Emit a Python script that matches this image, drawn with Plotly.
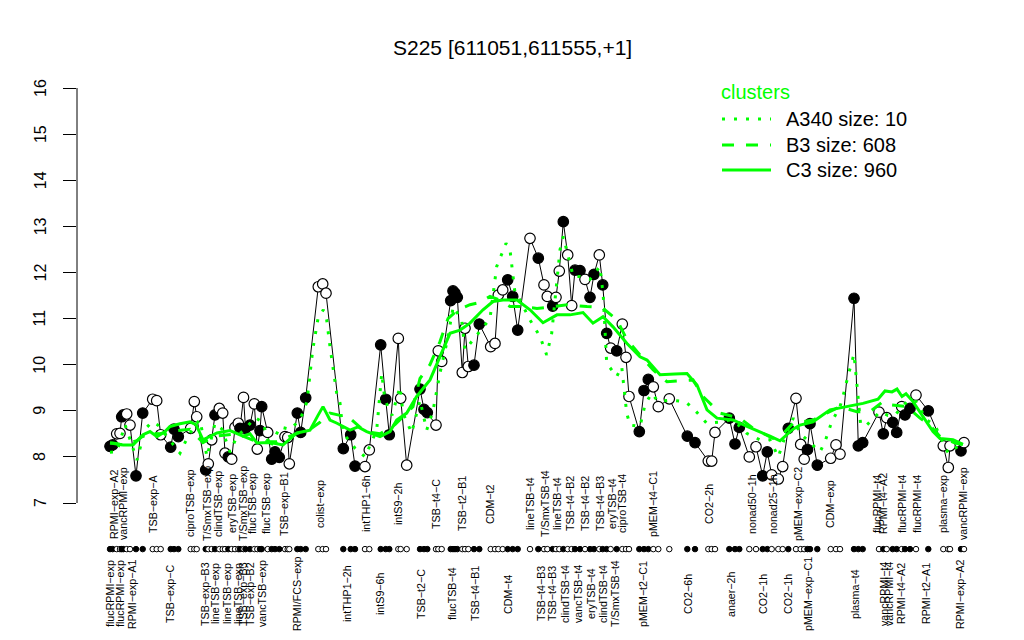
import plotly.graph_objects as go

# ---------------- data ----------------
title_text = "S225 [611051,611555,+1]"

sample_pos = [110, 112.7, 116.7, 120, 121.7, 123.3, 126.7, 130, 136, 142.7,
              152.7, 156.7, 160.7, 170.7, 174, 178.3, 190.7, 194.3, 196.7, 205.7,
              208.3, 211.7, 215, 219.3, 222.7, 225, 228.3, 231.7, 235, 238.3,
              240, 243.5, 245.5, 250, 254.3, 257.3, 260, 261.7, 267.7, 271.7,
              275, 279.3, 285, 287.7, 289.3, 297.3, 300.7, 305.7, 318.3, 322.7,
              326, 343.3, 350.7, 355, 365, 369.3, 380.7, 385.7, 389.3, 398.3,
              400.7, 406.7, 420, 424, 427.3, 436, 438.3, 441.7, 450.7, 453,
              455, 457.3, 462.3, 465, 468.3, 474, 479.3, 490.7, 495, 498.3,
              502.7, 507.7, 512.7, 517.7, 530, 538.3, 544, 547.3, 552.7, 556,
              559.3, 563.3, 567.7, 571.7, 575, 580, 585, 590, 594, 599.3,
              602.7, 606.7, 610.7, 616.7, 622.3, 626, 629, 639.3, 644, 648.3,
              653.3, 658.3, 669.3, 687.3, 695, 708.3, 711.7, 715, 729.3, 735,
              739.3, 749.3, 756, 762.7, 767.3, 771.7, 778.3, 782.7, 788.3, 796,
              800.7, 804.2, 807.5, 810, 817.3, 830.7, 836, 840, 854, 858.3,
              862.7, 879, 883.3, 886.7, 892.7, 896.7, 901.7, 905, 910, 916,
              928.3, 943.3, 948.3, 950, 961, 964]
sample_val = [8.23, 8.26, 8.50, 8.51, 8.87, 8.91, 8.93, 8.69, 7.59, 8.95,
              9.25, 9.22, 8.48, 8.21, 8.60, 8.44, 8.62, 9.20, 8.87, 7.72,
              7.85, 8.37, 8.91, 9.05, 8.95, 8.08, 8.00, 7.95, 8.64, 8.73,
              8.62, 9.29, 8.62, 8.69, 9.15, 8.17, 8.57, 9.09, 8.53, 7.95,
              8.11, 7.99, 8.44, 8.42, 7.85, 8.95, 8.53, 9.28, 11.69, 11.75,
              11.55, 8.18, 8.48, 7.80, 7.79, 8.15, 10.43, 9.25, 8.48, 10.57,
              9.27, 7.82, 9.47, 9.03, 8.96, 8.69, 10.30, 10.07, 11.39, 11.60,
              11.55, 11.46, 9.83, 10.79, 9.96, 9.99, 10.88, 10.39, 10.46, 11.51,
              11.62, 11.84, 11.48, 10.75, 12.74, 12.31, 11.73, 11.48, 11.27, 11.46,
              12.03, 13.10, 12.38, 11.28, 12.05, 12.04, 11.85, 11.46, 11.96, 12.38,
              11.73, 10.68, 10.36, 10.30, 10.88, 10.16, 9.31, 8.55, 9.44, 9.68,
              9.52, 9.09, 9.26, 8.45, 8.31, 7.91, 7.91, 8.53, 8.84, 8.28,
              8.64, 8.00, 8.22, 7.59, 8.11, 7.61, 7.52, 7.79, 8.62, 9.27,
              8.27, 7.95, 8.16, 8.72, 7.82, 7.97, 8.26, 8.06, 11.44, 8.24,
              8.31, 8.97, 8.50, 8.85, 8.75, 8.53, 9.09, 8.91, 9.05, 9.34,
              9.00, 8.24, 7.77, 8.24, 8.13, 8.31]
sample_filled = [1, 1, 0, 0, 1, 1, 0, 0, 1, 1,
                 0, 0, 0, 1, 1, 1, 0, 0, 0, 1,
                 0, 0, 1, 0, 0, 0, 1, 0, 0, 0,
                 1, 0, 1, 1, 0, 0, 1, 1, 0, 1,
                 1, 1, 0, 0, 0, 1, 1, 1, 0, 0,
                 0, 1, 1, 1, 0, 0, 1, 1, 1, 0,
                 0, 0, 1, 1, 1, 0, 0, 0, 1, 1,
                 1, 1, 0, 0, 0, 1, 1, 0, 0, 0,
                 0, 1, 1, 1, 0, 1, 0, 0, 1, 0,
                 0, 1, 0, 0, 1, 1, 0, 1, 1, 0,
                 1, 1, 0, 1, 0, 0, 0, 1, 1, 1,
                 0, 0, 0, 1, 1, 0, 0, 0, 1, 1,
                 1, 0, 0, 1, 1, 0, 0, 0, 1, 0,
                 0, 0, 1, 1, 1, 0, 0, 0, 1, 1,
                 1, 0, 1, 0, 1, 1, 0, 1, 1, 0,
                 1, 0, 0, 0, 1, 0]

a340_pos = [110, 117, 125, 137, 145, 152, 158, 167, 180, 185, 195, 200, 207, 215, 222,
            230, 237, 245, 255, 263, 270, 280, 290, 300, 307, 312.7, 318, 323.3, 326.7,
            330, 336.7, 340, 343, 355, 365, 376.7, 381.7, 385, 392, 400, 403, 411.7,
            420, 426.7, 433, 440, 447, 453.3, 461.7, 465, 473.3, 483.3, 490, 496.7,
            501.7, 506, 510, 515, 520, 530, 540, 546.7, 551.7, 556.7, 560, 563.3,
            566.7, 573.3, 580, 590, 600, 603.3, 606.7, 611.7, 616.7, 621.7, 626.7,
            630, 640, 645, 651.7, 658, 670, 685, 693.3, 706.7, 718, 730, 738, 746.7,
            760, 770, 778.3, 786, 793.3, 800, 810, 820, 825, 828.3, 831.7, 840,
            843.3, 848.3, 851.7, 854, 856, 858.3, 860.7, 866.7, 880, 888, 895,
            908.3, 916, 926.7, 935, 943.3, 948.3, 960]
a340_val = [8.10, 8.11, 8.70, 7.93, 8.60, 8.76, 8.69, 8.43, 8.08, 8.31, 8.70, 8.80, 8.00, 8.73, 8.60,
            8.10, 8.45, 8.60, 8.85, 8.75, 8.20, 8.65, 8.60, 8.80, 9.20, 10.32, 11.00, 11.19, 10.97,
            10.39, 9.38, 9.17, 8.52, 8.19, 8.00, 8.58, 9.81, 9.23, 8.90, 9.52, 8.95, 8.52,
            9.23, 8.58, 9.00, 9.82, 10.50, 11.26, 10.97, 10.32, 10.54, 10.82, 11.00, 12.13,
            12.42, 12.63, 12.49, 11.55, 11.40, 10.97, 10.61, 10.21, 10.68, 11.69, 12.49, 12.78,
            12.49, 11.91, 11.91, 11.85, 12.13, 11.48, 10.03, 9.89, 9.74, 9.96, 8.95,
            8.69, 8.66, 9.13, 9.38, 9.20, 9.23, 9.20, 9.05, 8.73, 8.75, 8.80, 8.70, 8.51,
            8.37, 8.37, 8.00, 8.50, 8.84, 8.51, 8.30, 8.11, 8.33, 8.53, 8.76, 9.09,
            9.34, 9.78, 10.03, 10.23, 9.78, 9.23, 8.69, 8.69, 8.98, 8.90, 8.91,
            9.23, 9.20, 8.80, 8.69, 8.29, 8.08, 8.26]

b3_pos = [110, 123, 137, 147, 160, 170, 190, 203, 215, 237, 257, 277, 297, 310, 320, 330,
          340, 352, 365, 380, 395, 413, 420, 430, 440, 448, 458, 470, 480, 490, 500, 510,
          523, 537, 550, 567, 587, 602, 617, 627, 640, 653, 667, 680, 693, 703, 720, 740,
          753, 773, 783, 793, 813, 840, 857, 870, 883, 890, 907, 920, 928, 940, 955, 963]
b3_val = [8.30, 8.26, 8.35, 8.52, 8.50, 8.55, 8.60, 8.31, 8.45, 8.50, 8.33, 8.33, 8.51, 8.60, 8.75, 8.95,
          8.90, 8.80, 8.55, 8.50, 8.70, 9.09, 9.70, 10.00, 10.50, 11.00, 11.19, 11.30, 11.35, 11.48, 11.40, 11.26,
          11.26, 11.22, 11.25, 11.30, 11.26, 11.24, 10.97, 10.54, 10.21, 9.89, 9.63, 9.65, 9.67, 9.31, 8.95, 8.84,
          8.62, 8.40, 8.50, 8.73, 8.80, 9.09, 8.98, 8.98, 9.20, 9.13, 9.09, 8.84, 8.73, 8.44, 8.30, 8.27]

c3_pos = [110, 113, 123, 133, 143, 150, 157, 165, 170, 180, 190, 196, 203, 210, 217, 230,
          243, 250, 257, 270, 283, 297, 310, 318, 323, 330, 337, 350, 358, 366.7, 380, 390,
          396.7, 406.7, 416.7, 430, 440, 450, 460, 470, 483, 493, 503, 517, 530, 543, 557,
          570, 583, 593, 603, 613, 627, 640, 647, 660, 675, 687, 697, 707, 717, 733, 747,
          760, 770, 780, 793, 800, 813, 830, 847, 863, 878, 885, 892, 897, 902, 906, 913,
          923, 933, 940, 953, 963]
c3_val = [8.30, 8.30, 8.26, 8.26, 8.48, 8.55, 8.44, 8.55, 8.66, 8.72, 8.76, 8.70, 8.37, 8.45, 8.52, 8.57,
          8.45, 8.50, 8.30, 8.31, 8.26, 8.52, 8.58, 8.90, 9.09, 8.80, 8.73, 8.58, 8.65, 8.55, 8.44, 8.55,
          8.80, 8.95, 9.31, 9.67, 10.17, 10.68, 10.75, 10.90, 11.19, 11.37, 11.40, 11.40, 11.19, 10.91, 11.08,
          11.08, 11.13, 10.90, 11.04, 10.82, 10.46, 10.17, 10.10, 9.78, 9.80, 9.81, 9.56, 9.02, 8.84, 8.80, 8.66,
          8.55, 8.45, 8.35, 8.60, 8.69, 8.76, 9.02, 9.09, 9.16, 9.25, 9.43, 9.41, 9.47, 9.31, 9.37, 9.20,
          8.87, 8.55, 8.40, 8.37, 8.27]

cluster_names = ["A340 size: 10", "B3 size: 608", "C3 size: 960"]

top_labels = ["RPMI−exp−A2", "vancRPMI−exp", "TSB−exp−A", "ciproTSB−exp", "T/SmxTSB−exp",
              "clindTSB−exp", "eryTSB−exp", "T/SmxTSB−exp", "flucTSB−exp", "flucTSB−exp",
              "TSB−exp−B1", "colist−exp", "intTHP1−6h", "intS9−2h", "TSB−t4−C", "TSB−t2−B1",
              "CDM−t2", "lineTSB−t4", "T/SmxTSB−t4", "lineTSB−t4", "TSB−t4−B2", "TSB−t4−B2",
              "TSB−t4−B3", "eryTSB−t4", "ciproTSB−t4", "pMEM−t4−C1", "CO2−2h", "nonad50−1h",
              "nonad25−1h", "pMEM−exp−C2", "CDM−exp", "flucRPMI−t4", "RPMI−t4−A2",
              "flucRPMI−t4", "flucRPMI−t4", "plasma−exp", "vancRPMI−exp"]
top_label_pos = [114, 123, 153, 190, 207, 218, 232, 243, 252, 266, 284, 320, 366, 398, 436, 462,
                 490, 530, 545, 557, 570, 585, 600, 612, 622, 653, 709, 752, 773, 798, 830, 877,
                 883, 902, 917, 943, 963]

bottom_labels = ["flucRPMI−exp", "flucRPMI−exp", "RPMI−exp−A1", "TSB−exp−C", "TSB−exp−B3",
                 "lineTSB−exp", "lineTSB−exp", "lineTSB−exp", "TSB−exp−B3", "TSB−exp−B2",
                 "vancTSB−exp", "RPMI/FCS−exp", "intTHP1−2h", "intS9−6h", "TSB−t2−C",
                 "flucTSB−t4", "TSB−t4−B1", "CDM−t4", "TSB−t4−B3", "TSB−t4−B3", "clindTSB−t4",
                 "vancTSB−t4", "eryTSB−t4", "clindTSB−t4", "T/SmxTSB−t4", "pMEM−t2−C1", "CO2−6h",
                 "anaer−2h", "CO2−1h", "CO2−1h", "pMEM−exp−C1", "plasma−t4", "vancRPMI−t4",
                 "vancRPMI−t4", "RPMI−t4−A2", "RPMI−t2−A1", "RPMI−exp−A2"]
bottom_label_pos = [110, 120, 132, 170, 205, 215, 227, 238, 243, 250, 262, 297, 347, 380, 421,
                    452, 475, 508, 541, 552, 565, 578, 591, 603, 615, 643, 688, 731, 763, 788,
                    808, 855, 884, 889, 901, 926, 960]

y_ticks = [7, 8, 9, 10, 11, 12, 13, 14, 15, 16]
dot_row_level = 6.0

# ---------------- layout helpers ----------------
# The page body has an 8px default margin, so the figure is drawn 8px smaller
# and all layout positions below are given in reference-window pixels.
OFF = 8
W, H = 1024 - OFF, 640 - OFF
L_REF = 77                      # left edge of the plotting region (window px)
PPU = 46.11                     # pixels per y unit
FONT = "Liberation Sans, Arial, Helvetica, sans-serif"
GREEN = "#00FF00"


def px(xp):
    return (xp - L_REF) / (1024 - L_REF)


def py(yp):
    return (640 - yp) / (640 - OFF)


fig = go.Figure()

# black profile line and points
fig.add_trace(go.Scatter(x=sample_pos, y=sample_val, mode="lines",
                         line=dict(color="black", width=1), hoverinfo="skip"))
fig.add_trace(go.Scatter(x=sample_pos, y=sample_val, mode="markers",
                         marker=dict(size=10.5, color=["black" if f else "white" for f in sample_filled],
                                     line=dict(color="black", width=1.2)),
                         hoverinfo="skip"))
# dot row
fig.add_trace(go.Scatter(x=sample_pos, y=[dot_row_level] * len(sample_pos), mode="markers",
                         marker=dict(size=5.5, color=["black" if f else "white" for f in sample_filled],
                                     line=dict(color="black", width=1)),
                         hoverinfo="skip"))

# cluster lines
fig.add_trace(go.Scatter(x=a340_pos, y=a340_val, mode="lines",
                         line=dict(color=GREEN, width=3, dash="3px,9px"), hoverinfo="skip"))
fig.add_trace(go.Scatter(x=b3_pos, y=b3_val, mode="lines",
                         line=dict(color=GREEN, width=3, dash="12px,12px"), hoverinfo="skip"))
fig.add_trace(go.Scatter(x=c3_pos, y=c3_val, mode="lines",
                         line=dict(color=GREEN, width=3), hoverinfo="skip"))

annotations = []
shapes = []

# title
annotations.append(dict(text=title_text, x=px(512), y=py(47), xref="paper", yref="paper",
                        showarrow=False, xanchor="center", yanchor="middle",
                        font=dict(family=FONT, size=21, color="black")))

# y tick labels (rotated, as in the reference)
for t in y_ticks:
    annotations.append(dict(text=str(t), x=px(40), y=t, xref="paper", yref="y", showarrow=False,
                            textangle=-90, xanchor="center", yanchor="middle",
                            font=dict(family=FONT, size=16, color="black")))

# sample labels
for lab, xp in zip(top_labels, top_label_pos):
    annotations.append(dict(text=lab, x=xp, y=py(504), xref="x", yref="paper", showarrow=False,
                            textangle=-90, xanchor="center", yanchor="middle",
                            font=dict(family=FONT, size=10.7, color="black")))
for lab, xp in zip(bottom_labels, bottom_label_pos):
    annotations.append(dict(text=lab, x=xp, y=py(594), xref="x", yref="paper", showarrow=False,
                            textangle=-90, xanchor="center", yanchor="middle",
                            font=dict(family=FONT, size=10.7, color="black")))

# legend (manual)
annotations.append(dict(text="clusters", x=px(719), y=py(92), xref="paper", yref="paper",
                        showarrow=False, xanchor="left", yanchor="middle",
                        font=dict(family=FONT, size=20, color=GREEN)))
legend_dash = ["3px,9px", "12px,12px", "solid"]
legend_y = [119, 145, 170]
for name, dsh, ly in zip(cluster_names, legend_dash, legend_y):
    shapes.append(dict(type="line", xref="paper", yref="paper", x0=px(722), x1=px(771),
                       y0=py(ly), y1=py(ly), line=dict(color=GREEN, width=3, dash=dsh)))
    annotations.append(dict(text=name, x=px(784), y=py(ly), xref="paper", yref="paper",
                            showarrow=False, xanchor="left", yanchor="middle",
                            font=dict(family=FONT, size=20, color="black")))

# y axis line from 7 to 16
shapes.append(dict(type="line", xref="paper", yref="y", x0=0, x1=0, y0=y_ticks[0], y1=y_ticks[-1],
                   line=dict(color="black", width=1)))

fig.update_layout(
    width=W, height=H,
    margin=dict(l=L_REF - OFF, r=0, t=0, b=0, pad=0, autoexpand=False),
    paper_bgcolor="white", plot_bgcolor="white",
    showlegend=False,
    xaxis=dict(range=[L_REF, 1024], visible=False, fixedrange=True, automargin=False),
    yaxis=dict(range=[7 - (640 - 503) / PPU, 16 + (88 - OFF) / PPU], tickvals=y_ticks,
               ticks="outside", ticklen=13, tickwidth=1, tickcolor="black",
               showticklabels=False, showline=False, showgrid=False, zeroline=False,
               automargin=False, fixedrange=True),
    annotations=annotations,
    shapes=shapes,
)

fig.write_html("out.html")
